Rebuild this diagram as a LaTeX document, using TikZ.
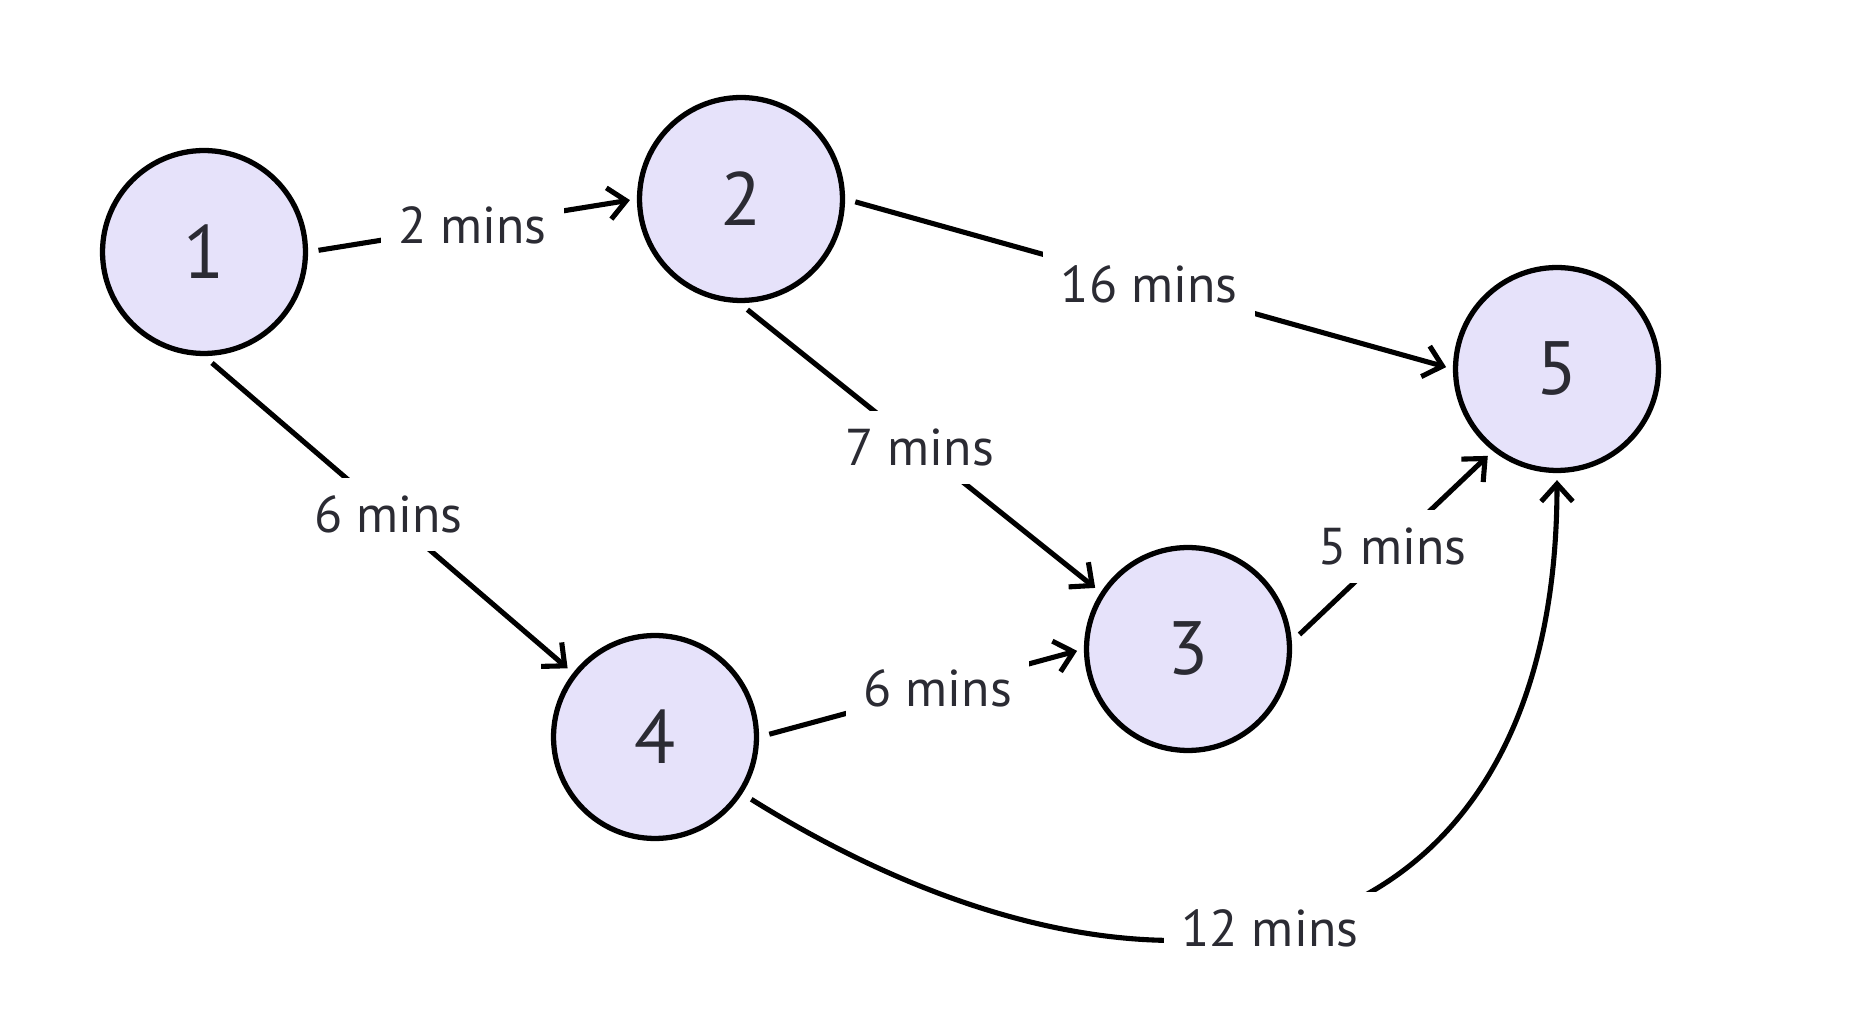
\documentclass[tikz,border=0pt]{standalone}
\usepackage{fontspec}
\setmainfont{PT Sans}
\usepackage{xcolor}
\usepackage{tikz}
\usetikzlibrary{arrows.meta,positioning}
\definecolor{statefill}{HTML}{E6E2FA}
\definecolor{labelgray}{HTML}{2B2B33}

\begin{document}
\begin{tikzpicture}[x=0.02cm,y=-0.02cm,
    state/.style={circle, draw=black, line width=3pt, fill=statefill, minimum size=4.06cm, inner sep=0pt, text=labelgray, font=\fontsize{43}{45}\selectfont},
    edge/.style={line width=2.9pt, -{Straight Barb[length=10pt,width=18pt]}, shorten <=6pt, shorten >=4pt},
    cost/.style={fill=white, inner sep=10pt, text=labelgray, font=\fontsize{29.5}{31}\selectfont}]
    \useasboundingbox (0,0) rectangle (1864,1016);
    \node[state] at (204,252) (n1) {1};
    \node[state] at (741,199) (n2) {2};
    \node[state] at (1188,649) (n3) {3};
    \node[state] at (655,737) (n4) {4};
    \node[state] at (1557,369) (n5) {5};
    \draw[edge] (n1.east) -- node[cost] {2 mins} (n2.west);
    \draw[edge] (n2.east) -- node[cost] {16 mins} (n5.west);
    \draw[edge] (n2.-91) -- node[cost] {7 mins} (n3.147);
    \draw[edge] (n1.-90) -- node[cost] {6 mins} (n4.142);
    \draw[edge] (n4.east) -- node[cost, pos=0.55] {6 mins} (n3.west);
    \draw[edge] (n3.4) -- node[cost] {5 mins} (n5.-128);
    \draw[edge] (n4.-33) to[out=-32, in=-90, looseness=1.45] node[cost, pos=0.46] {12 mins} (n5.south);
\end{tikzpicture}
\end{document}
